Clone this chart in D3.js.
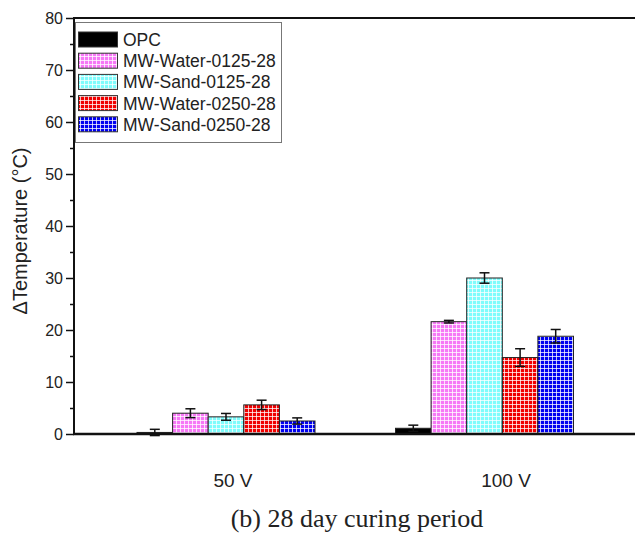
<!DOCTYPE html>
<html>
<head>
<meta charset="utf-8">
<script src="https://cdn.jsdelivr.net/npm/d3@7"></script>
<style>
  html, body { margin: 0; padding: 0; background: #fff; }
  svg { display: block; }
</style>
</head>
<body>
<svg id="chart" width="635" height="537"></svg>
<script>
// ---- data ----
const categories = ["50 V", "100 V"];
const seriesNames = ["OPC", "MW-Water-0125-28", "MW-Sand-0125-28", "MW-Water-0250-28", "MW-Sand-0250-28"];
const seriesColors = ["#000000", "#f678f6", "#7ffcfc", "#f00000", "#0000f0"];
const values50 = [0.3, 4.0, 3.3, 5.6, 2.5];
const errors50 = [0.6, 0.85, 0.65, 0.9, 0.6];
const values100 = [1.1, 21.6, 30.0, 14.7, 18.8];
const errors100 = [0.6, 0.25, 1.0, 1.7, 1.3];
const yTicks = [0, 10, 20, 30, 40, 50, 60, 70, 80];
const yMinorTicks = [5, 15, 25, 35, 45, 55, 65, 75];
const yLabel = "\u0394Temperature (\u00B0C)";
const caption = "(b) 28 day curing period";

(function () {
const svg = d3.select("#chart");
const W = 635;
const mLeft = 74, mTop = 18, mBottom = 434;

const y = d3.scaleLinear().domain([0, 80]).range([mBottom, mTop]);
const xGroup = d3.scalePoint().domain(categories).range([226, 484.5]);
const xLabel = d3.scalePoint().domain(categories).range([233, 506]);
const xBar = d3.scaleBand().domain(seriesNames).range([-89, 89]).padding(0);

// patterns
const defs = svg.append("defs");
seriesColors.forEach((c, i) => {
  const p = defs.append("pattern")
    .attr("id", "pat" + i)
    .attr("patternUnits", "userSpaceOnUse")
    .attr("width", 4).attr("height", 4);
  p.append("rect").attr("width", 4).attr("height", 4).attr("fill", c);
  if (i > 0) {
    p.append("rect").attr("x", 0).attr("y", 0).attr("width", 1).attr("height", 4).attr("fill", "#fff").attr("opacity", 0.75);
    p.append("rect").attr("x", 0).attr("y", 0).attr("width", 4).attr("height", 1).attr("fill", "#fff").attr("opacity", 0.75);
  }
});

const data = [];
categories.forEach((cat, ci) => {
  const vals = ci === 0 ? values50 : values100;
  const errs = ci === 0 ? errors50 : errors100;
  seriesNames.forEach((s, si) => {
    data.push({ cat, s, si, v: vals[si], e: errs[si] });
  });
});

// bars
svg.append("g").selectAll("rect").data(data).join("rect")
  .attr("x", d => xGroup(d.cat) + xBar(d.s))
  .attr("y", d => y(d.v))
  .attr("width", xBar.bandwidth())
  .attr("height", d => y(0) - y(d.v))
  .attr("fill", d => `url(#pat${d.si})`)
  .attr("stroke", "#222")
  .attr("stroke-width", 1);

// error bars
const eg = svg.append("g").attr("stroke", "#111").attr("stroke-width", 1.5);
data.forEach(d => {
  const cx = xGroup(d.cat) + xBar(d.s) + xBar.bandwidth() / 2;
  eg.append("line").attr("x1", cx).attr("x2", cx).attr("y1", y(d.v + d.e)).attr("y2", y(d.v - d.e));
  eg.append("line").attr("x1", cx - 5).attr("x2", cx + 5).attr("y1", y(d.v + d.e)).attr("y2", y(d.v + d.e));
  eg.append("line").attr("x1", cx - 5).attr("x2", cx + 5).attr("y1", y(d.v - d.e)).attr("y2", y(d.v - d.e));
});

// y axis major
const ax = svg.append("g").attr("transform", `translate(${mLeft},0)`)
  .call(d3.axisLeft(y).tickValues(yTicks).tickSize(8).tickPadding(3));
ax.select(".domain").remove();
ax.selectAll(".tick line").attr("stroke", "#111").attr("stroke-width", 1.5);
ax.selectAll(".tick text").attr("font-family", "Arial, 'Liberation Sans', sans-serif").attr("font-size", 16).attr("fill", "#222");
const axm = svg.append("g").attr("transform", `translate(${mLeft},0)`)
  .call(d3.axisLeft(y).tickValues(yMinorTicks).tickSize(4).tickFormat(""));
axm.select(".domain").remove();
axm.selectAll(".tick line").attr("stroke", "#111").attr("stroke-width", 1.5);

// frame lines
svg.append("line").attr("x1", mLeft).attr("x2", mLeft).attr("y1", mTop - 1).attr("y2", mBottom + 1).attr("stroke", "#111").attr("stroke-width", 2);
svg.append("line").attr("x1", mLeft - 1).attr("x2", W).attr("y1", mTop).attr("y2", mTop).attr("stroke", "#111").attr("stroke-width", 2);
svg.append("line").attr("x1", mLeft - 1).attr("x2", W).attr("y1", y(0)).attr("y2", y(0)).attr("stroke", "#111").attr("stroke-width", 2.5);

// category labels
svg.append("g").selectAll("text").data(categories).join("text")
  .attr("x", d => xLabel(d))
  .attr("y", 487)
  .attr("text-anchor", "middle")
  .attr("font-family", "Arial, 'Liberation Sans', sans-serif")
  .attr("font-size", 19)
  .attr("fill", "#222")
  .text(d => d);

// y label
svg.append("text")
  .attr("transform", "translate(27,231) rotate(-90)")
  .attr("text-anchor", "middle")
  .attr("font-family", "Arial, 'Liberation Sans', sans-serif")
  .attr("font-size", 20)
  .attr("fill", "#222")
  .text(yLabel);

// caption
svg.append("text")
  .attr("x", 357).attr("y", 527)
  .attr("text-anchor", "middle")
  .attr("font-family", "'Times New Roman', 'Liberation Serif', serif")
  .attr("font-size", 26)
  .attr("fill", "#222")
  .text(caption);

// legend
const lg = svg.append("g");
lg.append("rect").attr("x", 75.5).attr("y", 22.5).attr("width", 206).attr("height", 120)
  .attr("fill", "#fff").attr("stroke", "#777").attr("stroke-width", 1);
const rowY = d3.scaleBand().domain(seriesNames).range([30, 136]);
seriesNames.forEach((s, i) => {
  const yy = rowY(s) + 2;
  lg.append("rect").attr("x", 78.5).attr("y", yy).attr("width", 39).attr("height", 15)
    .attr("fill", `url(#pat${i})`).attr("stroke", "#333").attr("stroke-width", 1);
  lg.append("text").attr("x", 123).attr("y", yy + 14)
    .attr("font-family", "Arial, 'Liberation Sans', sans-serif")
    .attr("font-size", 17.5).attr("fill", "#222")
    .text(s);
});
})();
</script>
</body>
</html>
